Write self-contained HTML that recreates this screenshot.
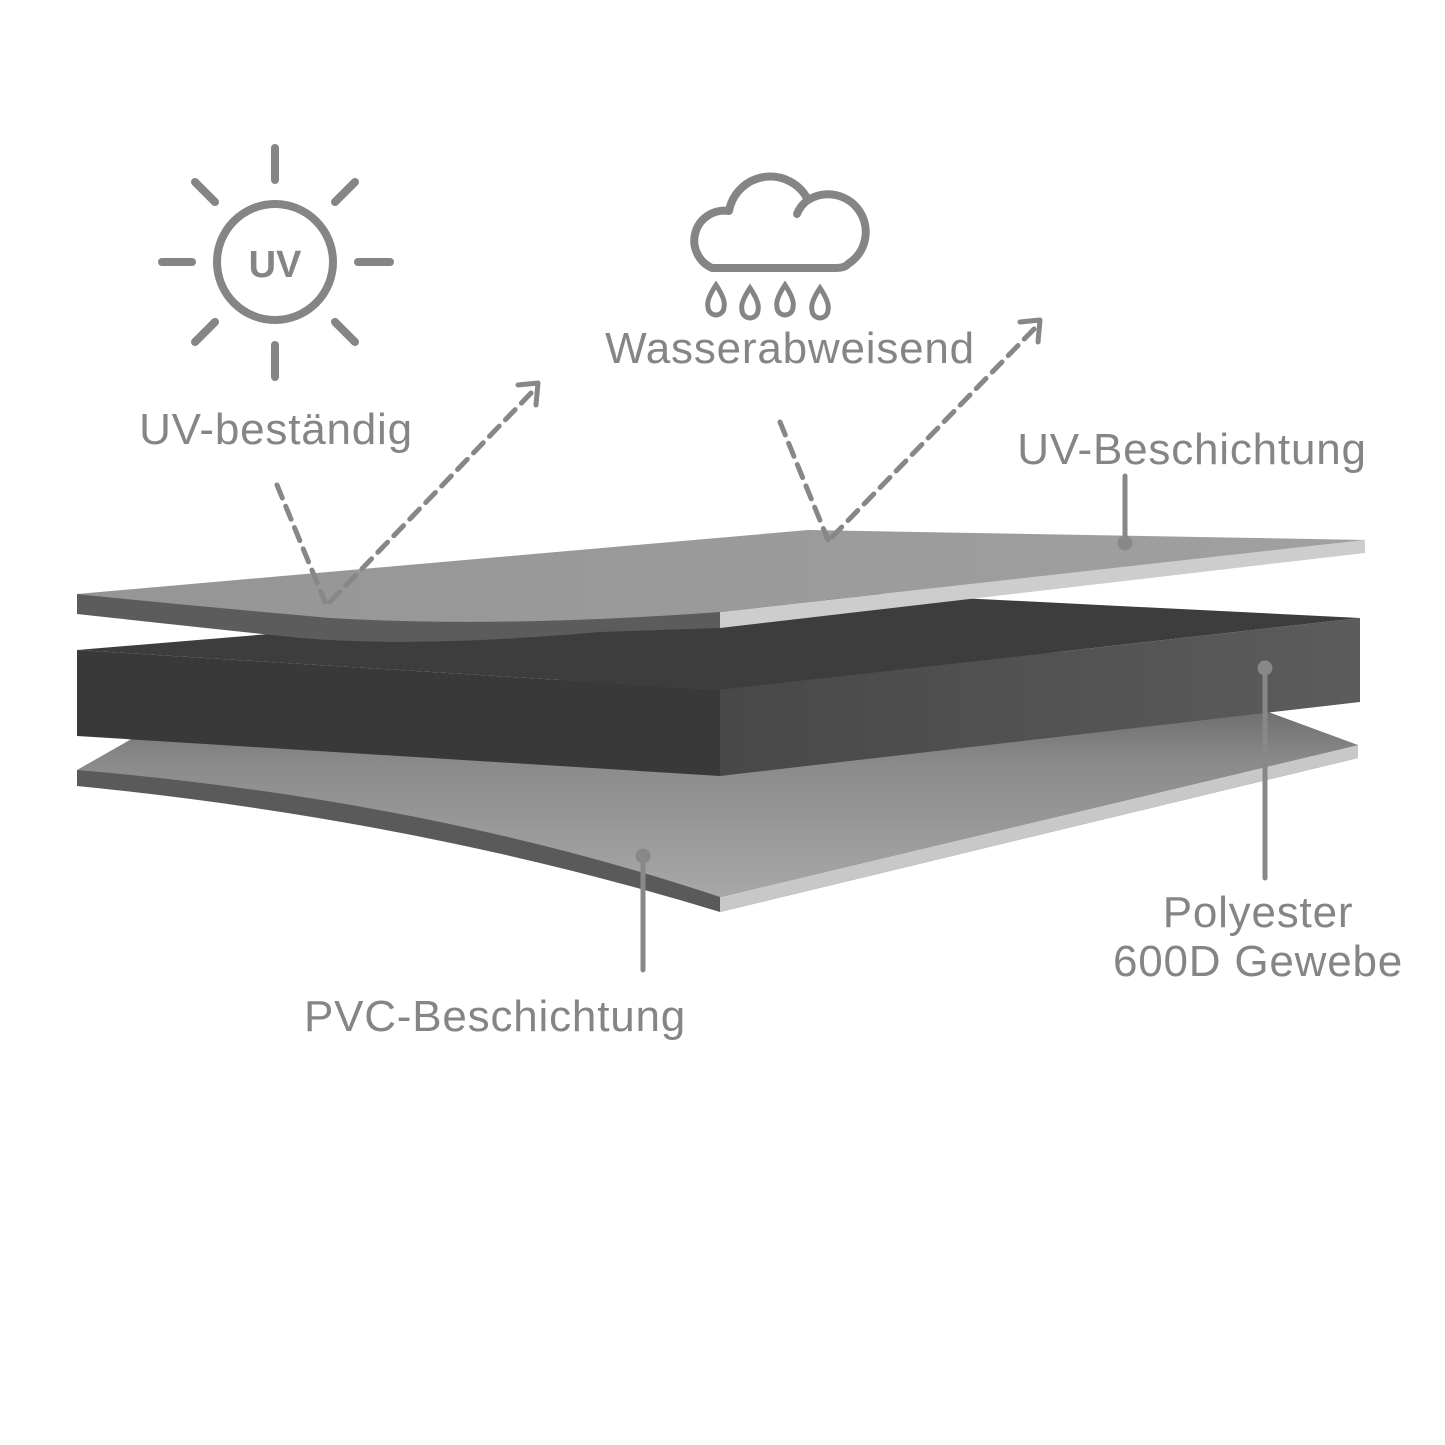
<!DOCTYPE html>
<html><head><meta charset="utf-8"><style>
html,body{margin:0;padding:0;background:#fff}
svg{display:block}
text{font-family:"Liberation Sans",sans-serif;fill:#858585}
</style></head><body>
<svg width="1445" height="1445" viewBox="0 0 1445 1445" xmlns="http://www.w3.org/2000/svg">
<defs>
<linearGradient id="bot" x1="0" y1="0" x2="0" y2="1"><stop offset="0" stop-color="#4e4e4e"/><stop offset="0.45" stop-color="#8a8a8a"/><stop offset="1" stop-color="#a8a8a8"/></linearGradient>
<linearGradient id="topf" x1="0" y1="0" x2="1" y2="0"><stop offset="0" stop-color="#959595"/><stop offset="1" stop-color="#a0a0a0"/></linearGradient>
<linearGradient id="rside" x1="0" y1="0" x2="1" y2="0"><stop offset="0" stop-color="#484848"/><stop offset="1" stop-color="#5c5c5c"/></linearGradient>
</defs>
<!-- bottom sheet -->
<path d="M77,770 L77,786 Q420,820 720,912 L1358,758 L1358,745 Z" fill="#5a5a5a"/>
<path d="M720,897 L1358,745 L1358,758 L720,912 Z" fill="#c8c8c8"/>
<path d="M77,770 Q430,800 720,897 L1358,745 L1100,650 L200,700 Z" fill="url(#bot)"/>
<!-- middle block -->
<path d="M77,650 L720,690 L1360,618 L800,590 Z" fill="#3d3d3d"/>
<path d="M77,650 L720,690 L720,776 L77,736 Z" fill="#393939"/>
<path d="M720,690 L1360,618 L1360,702 L720,776 Z" fill="url(#rside)"/>
<!-- top sheet -->
<path d="M77,594 L77,614 Q150,622 300,638 Q420,648 600,632 L720,628 L720,612 Z" fill="#5c5c5c"/>
<path d="M720,612 L1365,540 L1365,553 L720,628 Z" fill="#cdcdcd"/>
<path d="M77,594 L808,530 L1365,540 L720,612 Q500,628 330,618 Q150,602 77,594 Z" fill="url(#topf)"/>
<!-- leaders -->
<g stroke="#888" stroke-width="5" stroke-linecap="round" fill="#888">
<line x1="1125" y1="476" x2="1125" y2="541"/><circle cx="1125" cy="543" r="5"/>
<line x1="1265" y1="670" x2="1265" y2="878"/><circle cx="1265" cy="668" r="5"/>
<line x1="643" y1="857" x2="643" y2="970"/><circle cx="643" cy="856" r="5"/>
</g>
<!-- dashed arrows -->
<g stroke="#878787" stroke-width="5" fill="none" stroke-dasharray="14,9" stroke-linecap="round">
<path d="M277,485 L325,602"/>
<path d="M330,602 L534,390"/>
<path d="M780,422 L828,540"/>
<path d="M832,537 L1036,327"/>
</g>
<g stroke="#878787" stroke-width="5" fill="none" stroke-linecap="round" stroke-linejoin="round">
<path d="M518,385 L538,383 L536,405"/>
<path d="M1020,322 L1040,320 L1038,342"/>
</g>
<!-- sun -->
<g stroke="#858585" stroke-width="8" stroke-linecap="round" fill="none">
<circle cx="275" cy="262" r="58"/>
<line x1="275" y1="148" x2="275" y2="180"/>
<line x1="275" y1="345" x2="275" y2="377"/>
<line x1="162" y1="262" x2="192" y2="262"/>
<line x1="358" y1="262" x2="390" y2="262"/>
<line x1="195" y1="182" x2="215" y2="202"/>
<line x1="355" y1="182" x2="335" y2="202"/>
<line x1="195" y1="342" x2="215" y2="322"/>
<line x1="355" y1="342" x2="335" y2="322"/>
</g>
<text x="275" y="277" font-size="38" font-weight="bold" text-anchor="middle">UV</text>
<!-- cloud -->
<g fill="none" stroke="#858585" stroke-width="8" stroke-linejoin="round" stroke-linecap="round">
<path d="M712,268 A30,30 0 0 1 729,211 A42,42 0 0 1 808,200 A33,33 0 0 1 848,264 Q845,268 835,268 Z"/>
<path d="M797,214 A30,30 0 0 1 808,200"/>
</g>
<g fill="none" stroke="#858585" stroke-width="5">
<path d="M716,285 Q706,300 708,307 A8,8 0 0 0 724,307 Q726,300 716,285 Z"/>
<path d="M750,288 Q740,303 742,310 A8,8 0 0 0 758,310 Q760,303 750,288 Z"/>
<path d="M785,285 Q775,300 777,307 A8,8 0 0 0 793,307 Q795,300 785,285 Z"/>
<path d="M820,288 Q810,303 812,310 A8,8 0 0 0 828,310 Q830,303 820,288 Z"/>
</g>
<!-- labels -->
<g font-size="44" letter-spacing="0.8" text-anchor="middle">
<text x="276" y="444">UV-beständig</text>
<text x="790" y="363">Wasserabweisend</text>
<text x="1192" y="464">UV-Beschichtung</text>
<text x="1258" y="927">Polyester</text>
<text x="1258" y="976">600D Gewebe</text>
<text x="495" y="1031">PVC-Beschichtung</text>
</g>
</svg>
</body></html>
